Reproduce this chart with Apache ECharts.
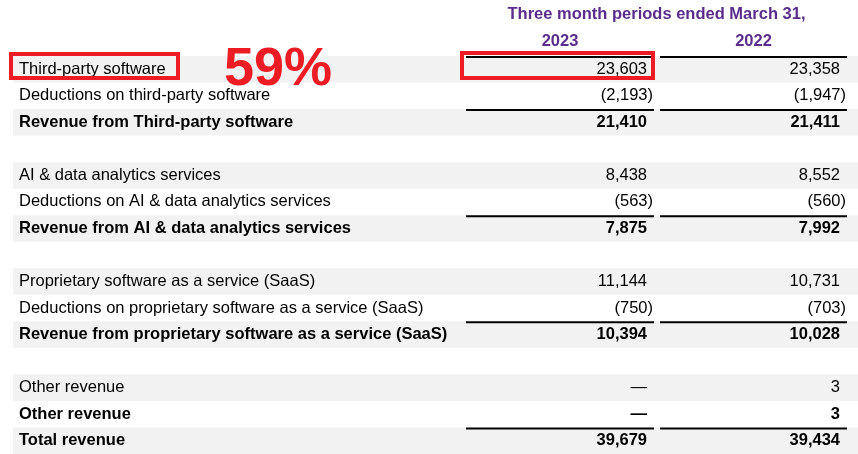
<!DOCTYPE html>
<html><head><meta charset="utf-8">
<script src="https://cdn.jsdelivr.net/npm/echarts@6/dist/echarts.min.js"></script>
<style>html,body{margin:0;padding:0;background:#fff}#c{width:858px;height:454px}</style>
</head><body><div id="c"></div>
<script>
// ---- data ----
const headerTitle = 'Three month periods ended March 31,';
const periodLabels = ['2023', '2022'];
const rowLabels = [
  'Third-party software', 'Deductions on third-party software', 'Revenue from Third-party software', '',
  'AI & data analytics services', 'Deductions on AI & data analytics services', 'Revenue from AI & data analytics services', '',
  'Proprietary software as a service (SaaS)', 'Deductions on proprietary software as a service (SaaS)', 'Revenue from proprietary software as a service (SaaS)', '',
  'Other revenue', 'Other revenue', 'Total revenue'
];
const values2023 = [23603, -2193, 21410, null, 8438, -563, 7875, null, 11144, -750, 10394, null, 0, 0, 39679];
const values2022 = [23358, -1947, 21411, null, 8552, -560, 7992, null, 10731, -703, 10028, null, 3, 3, 39434];
const boldRows = [2, 6, 10, 13, 14];
const ruleRows = [0, 2, 6, 10, 14];
const highlightRows = [0];
const highlightNote = '59%';

// ---- layout / style ----
const FONT = '"Liberation Sans", Arial, sans-serif';
const FS = 16.5;
const PURPLE = '#5B2C8C';
const RED = '#ED1C24';
const BAND = '#F2F2F2';
const labelX = 19, bandX = 13;
const cols = [
  { ruleL: 466, ruleR: 654, right: 647, values: values2023 },
  { ruleL: 660, ruleR: 847, right: 840, values: values2022 }
];

function fmt(v) {
  if (v === 0) return '\u2014';
  const s = Math.abs(v).toLocaleString('en-US');
  return v < 0 ? '(' + s + ')' : s;
}

function renderItem(params, api) {
  const i = api.value(1);
  const c = api.coord([0, i]);
  const yc = c[1];
  const h = api.size([0, 1])[1];
  const top = yc - h / 2;
  const X = v => api.coord([v, i])[0];
  const bold = boldRows.indexOf(i) >= 0;
  const children = [];
  if (i % 2 === 0) {
    children.push({ type: 'rect', shape: { x: X(bandX), y: top, width: X(858) - X(bandX), height: h }, style: { fill: BAND } });
  }
  if (ruleRows.indexOf(i) >= 0) {
    cols.forEach(col => {
      children.push({ type: 'rect', shape: { x: X(col.ruleL), y: top, width: X(col.ruleR) - X(col.ruleL), height: 2 }, style: { fill: '#000' } });
    });
  }
  if (rowLabels[i]) {
    children.push({ type: 'text', x: X(labelX), y: yc, style: { text: rowLabels[i], font: (bold ? 'bold ' : '') + FS + 'px ' + FONT, fill: '#000', align: 'left', verticalAlign: 'middle' } });
  }
  cols.forEach(col => {
    const v = col.values[i];
    if (v === null || v === undefined) return;
    children.push({ type: 'text', x: X(col.right + (v < 0 ? 6 : 0)), y: yc, style: { text: fmt(v), font: (bold ? 'bold ' : '') + FS + 'px ' + FONT, fill: '#000', align: 'right', verticalAlign: 'middle' } });
  });
  if (highlightRows.indexOf(i) >= 0) {
    children.push({ type: 'rect', z2: 10, shape: { x: X(11), y: top - 2, width: X(178) - X(11), height: h - 2.5 }, style: { fill: 'none', stroke: RED, lineWidth: 4 } });
    children.push({ type: 'rect', z2: 10, shape: { x: X(462), y: top - 3, width: X(653) - X(462), height: h - 1.5 }, style: { fill: 'none', stroke: RED, lineWidth: 4 } });
    children.push({ type: 'text', z2: 11, x: X(224), y: yc + 1, style: { text: highlightNote, font: 'bold 54px ' + FONT, fill: RED, align: 'left', verticalAlign: 'middle' } });
  }
  return { type: 'group', children: children };
}

const chart = echarts.init(document.getElementById('c'), null, { renderer: 'canvas' });
const hdrCenter = (cols[0].ruleL + cols[1].ruleR) / 2;
const hdrFont = 'bold 16.5px ' + FONT;
chart.setOption({
  animation: false,
  backgroundColor: '#fff',
  grid: { left: 0, right: 0, top: 56, bottom: 0 },
  xAxis: { type: 'value', min: 0, max: 858, show: false },
  yAxis: { type: 'category', inverse: true, data: rowLabels.map((_, i) => String(i)), show: false },
  graphic: [
    { type: 'text', x: hdrCenter, y: 14, style: { text: headerTitle, font: hdrFont, fill: PURPLE, align: 'center', verticalAlign: 'middle' } },
    { type: 'text', x: (cols[0].ruleL + cols[0].ruleR) / 2, y: 41, style: { text: periodLabels[0], font: hdrFont, fill: PURPLE, align: 'center', verticalAlign: 'middle' } },
    { type: 'text', x: (cols[1].ruleL + cols[1].ruleR) / 2, y: 41, style: { text: periodLabels[1], font: hdrFont, fill: PURPLE, align: 'center', verticalAlign: 'middle' } }
  ],
  series: [{
    type: 'custom',
    renderItem: renderItem,
    data: rowLabels.map((_, i) => [0, i]),
    encode: { x: 0, y: 1 },
    clip: false
  }]
});
</script></body></html>
